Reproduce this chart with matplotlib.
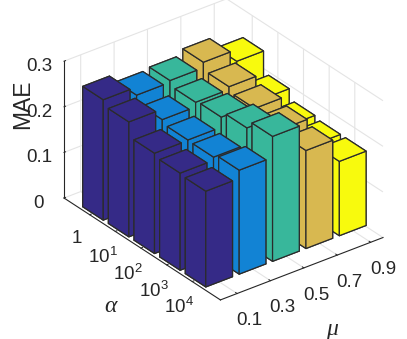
import matplotlib
matplotlib.use("Agg")
import matplotlib.pyplot as plt
from mpl_toolkits.mplot3d import proj3d

plt.rcParams['font.family'] = ['Liberation Sans', 'DejaVu Sans']
plt.rcParams['mathtext.fontset'] = 'custom'
plt.rcParams['mathtext.rm'] = 'Liberation Sans'
plt.rcParams['mathtext.default'] = 'regular'

alpha_labels = ['1', '$10^1$', '$10^2$', '$10^3$', '$10^4$']
mu_labels = ['0.1', '0.3', '0.5', '0.7', '0.9']
z_ticks = [0, 0.1, 0.2, 0.3]
mae_mu01 = [0.264, 0.252, 0.220, 0.213, 0.210]
mae_mu03 = [0.246, 0.229, 0.221, 0.220, 0.228]
mae_mu05 = [0.250, 0.239, 0.243, 0.256, 0.274]
mae_mu07 = [0.262, 0.245, 0.234, 0.224, 0.215]
mae_mu09 = [0.236, 0.190, 0.168, 0.163, 0.163]
series = [mae_mu01, mae_mu03, mae_mu05, mae_mu07, mae_mu09]
colors = ['#352A87', '#1283D4', '#38B79B', '#D8B850', '#F8FA0D']

W, H = 407, 339
fig = plt.figure(figsize=(W / 100, H / 100), dpi=100)
ax = fig.add_axes([0.05, 0.05, 0.9, 0.9], projection='3d', proj_type='ortho')
ax.computed_zorder = False

XL, YL, ZL = (0, 6.1), (0.5, 5.37), (0, 0.3)
ax.set_xlim(*XL, view_margin=0)
ax.set_ylim(*YL, view_margin=0)
ax.set_zlim(*ZL, view_margin=0)
ax.view_init(elev=30, azim=-37.5)
ASPECT = (257, 205, 158)
ax.set_box_aspect(ASPECT, zoom=1.0)

ink = '#262626'
order = 10
for i in range(5):
    for j in reversed(range(5)):
        ax.bar3d(i + 1 - 0.4, j + 1 - 0.4, 0, 0.8, 0.8, series[j][i],
                 color=colors[j], edgecolor='#2b2b2b', linewidth=0.9,
                 shade=False, zorder=order)
        order += 1

ax.set_xticks(range(1, 6), alpha_labels)
ax.set_yticks(range(1, 6), mu_labels)
ax.set_zticks(z_ticks, ['0', '0.1', '0.2', '0.3'])
ax.zaxis.set_ticks_position('lower')
ax.tick_params(axis='x', labelsize=13.5, pad=1, colors=ink)
ax.tick_params(axis='y', labelsize=13.5, pad=1, colors=ink)
ax.tick_params(axis='z', labelsize=13.5, pad=1, colors=ink)

for a in (ax.xaxis, ax.yaxis, ax.zaxis):
    a.set_pane_color((1, 1, 1, 1))
    a.pane.set_edgecolor((1, 1, 1, 0))
    a.line.set_color(ink)
    a.line.set_linewidth(0.8)
    a._axinfo['grid'].update(color='#e4e4e4', linewidth=0.8)
    a._axinfo['tick'].update(inward_factor=0.0, outward_factor=0.12)
    a._axinfo['tick']['linewidth'] = {True: 0.7, False: 0.5}
ax.grid(True)


def px(x, y, z):
    u, v, _ = proj3d.proj_transform(x, y, z, ax.get_proj())
    return ax.transData.transform((u, v))


# fit the box to the reference's floor corners (pixels, y from bottom)
fig.canvas.draw()
left = px(XL[0], YL[0], 0)
right = px(XL[1], YL[1], 0)
ax.set_box_aspect(ASPECT, zoom=(383 - 64) / (right[0] - left[0]))
fig.canvas.draw()
left = px(XL[0], YL[0], 0)
p = ax.get_position(original=True)
ax.set_position([p.x0 + (64 - left[0]) / W, p.y0 + ((H - 198) - left[1]) / H,
                 p.width, p.height])

fig.text(23 / W, 1 - 104 / H, 'MAE', rotation=90, fontsize=16.5, color=ink,
         ha='center', va='center')
fig.text(110 / W, 1 - 307 / H, 'α', family='Liberation Serif', style='italic',
         fontsize=17, color=ink, ha='center', va='center')
fig.text(332 / W, 1 - 329 / H, 'μ', family='Liberation Serif', style='italic',
         fontsize=17, color=ink, ha='center', va='center')

fig.savefig('out.png', dpi=100)
